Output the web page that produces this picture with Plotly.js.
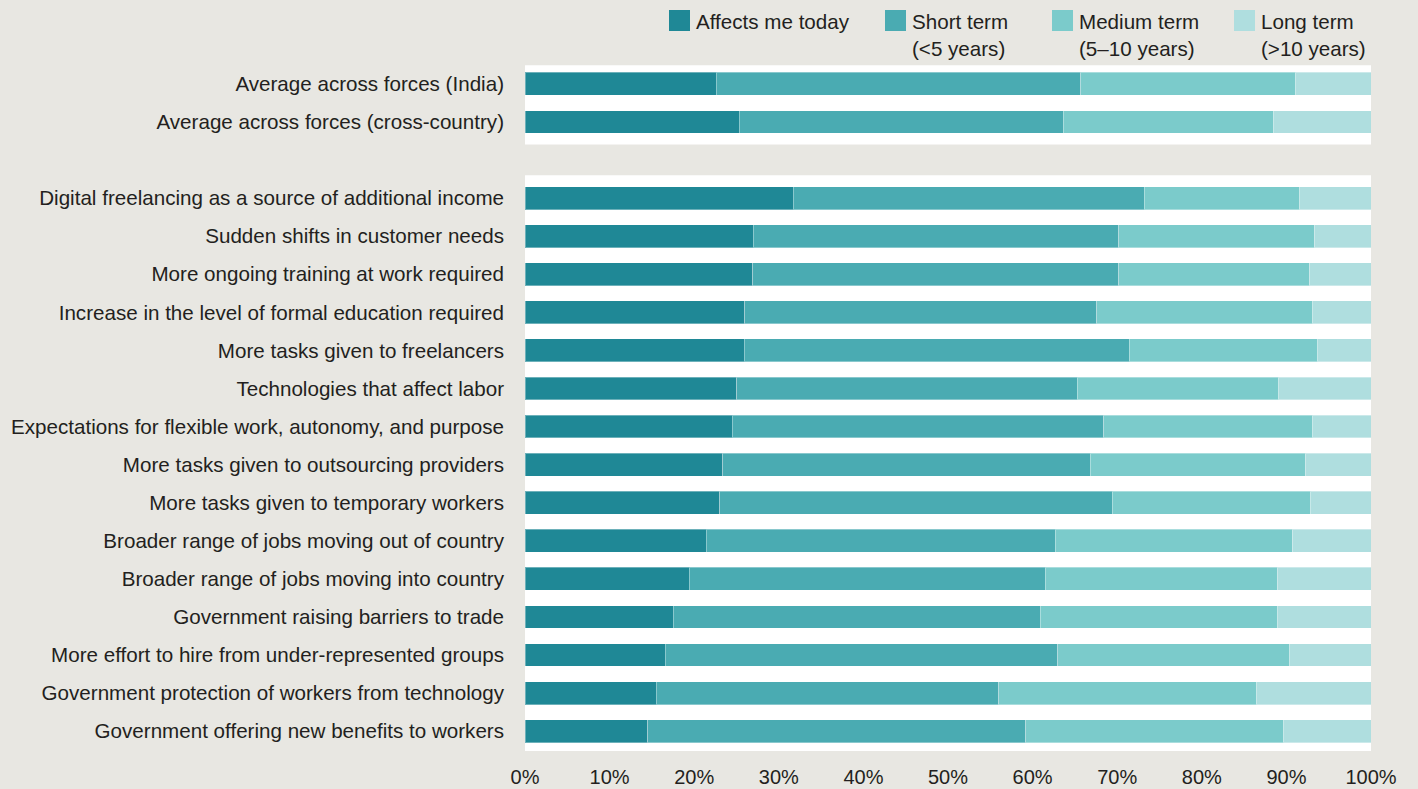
<!DOCTYPE html>
<html>
<head>
<meta charset="utf-8">
<script src="https://cdn.plot.ly/plotly-3.0.1.min.js"></script>
<style>
  html, body { margin: 0; padding: 0; background: #e8e7e2; }
  #chart { width: 1418px; height: 789px; }
</style>
</head>
<body>
<div id="chart"></div>
<script>
// ---- Data (percent of respondents) ----
const categories = [
  "Average across forces (India)",
  "Average across forces (cross-country)",
  " ",
  "Digital freelancing as a source of additional income",
  "Sudden shifts in customer needs",
  "More ongoing training at work required",
  "Increase in the level of formal education required",
  "More tasks given to freelancers",
  "Technologies that affect labor",
  "Expectations for flexible work, autonomy, and purpose",
  "More tasks given to outsourcing providers",
  "More tasks given to temporary workers",
  "Broader range of jobs moving out of country",
  "Broader range of jobs moving into country",
  "Government raising barriers to trade",
  "More effort to hire from under-represented groups",
  "Government protection of workers from technology",
  "Government offering new benefits to workers"
];
const affectsToday = [22.6, 25.3, null, 31.7, 27.0, 26.9, 26.0, 25.9, 25.0, 24.5, 23.4, 23.0, 21.4, 19.4, 17.5, 16.6, 15.5, 14.5];
const shortTerm    = [43.1, 38.3, null, 41.5, 43.2, 43.3, 41.6, 45.5, 40.3, 43.9, 43.4, 46.4, 41.3, 42.1, 43.4, 46.4, 40.5, 44.7];
const mediumTerm   = [25.4, 24.9, null, 18.4, 23.1, 22.5, 25.5, 22.3, 23.8, 24.7, 25.4, 23.5, 28.0, 27.4, 28.1, 27.4, 30.5, 30.5];
const longTerm     = [ 8.9, 11.5, null,  8.4,  6.7,  7.3,  6.9,  6.3, 10.9,  6.9,  7.8,  7.1,  9.3, 11.1, 11.0,  9.6, 13.5, 10.3];
const seriesNames  = ["Affects me today", "Short term<br>(<5 years)", "Medium term<br>(5\u201310 years)", "Long term<br>(>10 years)"];
const xTicks       = [0, 10, 20, 30, 40, 50, 60, 70, 80, 90, 100];

// ---- Styling ----
const colors = ["#1f8896", "#4aabb2", "#7bcbcb", "#afdedf"];
const bg = "#e8e7e2";
const textColor = "#231f20";
const fontFamily = "'Liberation Sans', Arial, sans-serif";
const fontSize = 20.6;

const seriesValues = [affectsToday, shortTerm, mediumTerm, longTerm];
const traces = seriesValues.map((vals, i) => ({
  type: "bar",
  orientation: "h",
  x: vals,
  y: categories,
  name: seriesNames[i],
  marker: { color: colors[i], line: { color: "rgba(255,255,255,0.35)", width: 1 } },
  hoverinfo: "x+y",
  showlegend: false
}));

// custom legend: swatches + labels
const legendX = [669, 885, 1052, 1234];
const shapes = [];
const annotations = [];
seriesNames.forEach((n, i) => {
  shapes.push({
    type: "rect", xref: "paper", yref: "paper",
    x0: (legendX[i] - 525) / 846, x1: (legendX[i] + 21 - 525) / 846,
    y0: 1 + (61 - 31) / 693, y1: 1 + (61 - 10) / 693,
    fillcolor: colors[i], line: { width: 0 }
  });
  annotations.push({
    xref: "paper", yref: "paper",
    x: (legendX[i] + 25 - 525) / 846, y: 1 + (61 - 8) / 693,
    xanchor: "left", yanchor: "top", align: "left",
    text: n, showarrow: false,
    font: { family: fontFamily, size: fontSize, color: textColor }
  });
});

// white background bands behind the two bar groups
shapes.push({ type: "rect", xref: "x", yref: "y", x0: 0, x1: 100, y0: -0.49, y1: 1.59,
  fillcolor: "#ffffff", line: { width: 0 }, layer: "below" });
shapes.push({ type: "rect", xref: "x", yref: "y", x0: 0, x1: 100, y0: 2.4, y1: 17.52,
  fillcolor: "#ffffff", line: { width: 0 }, layer: "below" });

const layout = {
  width: 1418, height: 789,
  margin: { l: 525, r: 47, t: 61, b: 35 },
  paper_bgcolor: bg, plot_bgcolor: bg,
  barmode: "stack",
  bargap: 0.4,
  font: { family: fontFamily, size: fontSize, color: textColor },
  xaxis: {
    range: [0, 100], tickvals: xTicks, ticktext: xTicks.map(v => v + "%"),
    showgrid: false, zeroline: false, showline: false, ticks: "",
    ticklabelstandoff: 9,
    tickfont: { family: fontFamily, size: 20, color: textColor },
    fixedrange: true
  },
  yaxis: {
    type: "category", categoryorder: "array", categoryarray: categories,
    range: [17.6, -0.6],
    showgrid: false, zeroline: false, showline: false, ticks: "",
    ticklabelstandoff: 20,
    tickfont: { family: fontFamily, size: fontSize, color: textColor },
    fixedrange: true
  },
  shapes: shapes,
  annotations: annotations,
  showlegend: false
};

Plotly.newPlot("chart", traces, layout, { displayModeBar: false, staticPlot: true });
</script>
</body>
</html>
